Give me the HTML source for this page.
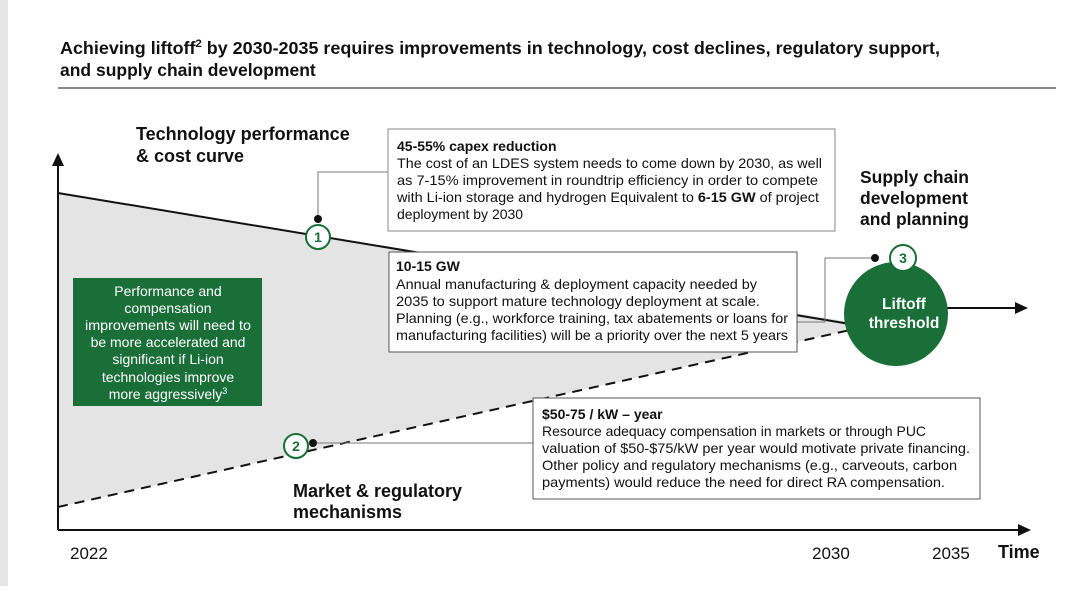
<!DOCTYPE html>
<html><head><meta charset="utf-8"><style>
body{margin:0;width:1080px;height:586px;background:#fff;overflow:hidden;font-family:"Liberation Sans",Arial,sans-serif;}
svg text{font-family:"Liberation Sans",Arial,sans-serif;}
</style></head><body>
<svg width="1080" height="586" viewBox="0 0 1080 586" xmlns="http://www.w3.org/2000/svg">
<rect x="0" y="0" width="8" height="586" fill="#e6e6e6"/>
<text x="60" y="54" font-size="17.5" font-weight="bold" fill="#111" textLength="880" lengthAdjust="spacingAndGlyphs">Achieving liftoff<tspan font-size="11" dy="-7">2</tspan><tspan dy="7"> by 2030-2035 requires improvements in technology, cost declines, regulatory support,</tspan></text>
<text x="60" y="76" font-size="17.5" font-weight="bold" fill="#111">and supply chain development</text>
<line x1="58" y1="88" x2="1056" y2="88" stroke="#444" stroke-width="1.2"/>
<text x="136" y="140" font-size="18" font-weight="bold" fill="#111">Technology performance</text>
<text x="136" y="162" font-size="18" font-weight="bold" fill="#111">&amp; cost curve</text>
<polygon points="58,193 850,322 850,330 58,507" fill="#e4e4e4"/>
<line x1="58" y1="193" x2="850" y2="324" stroke="#111" stroke-width="2"/>
<line x1="58" y1="507" x2="850" y2="330" stroke="#111" stroke-width="2" stroke-dasharray="10,7"/>
<line x1="58" y1="530" x2="58" y2="165" stroke="#111" stroke-width="2"/>
<polygon points="52,166 64,166 58,153" fill="#111"/>
<line x1="58" y1="530" x2="1020" y2="530" stroke="#111" stroke-width="2"/>
<polygon points="1018,524 1018,536 1031,530" fill="#111"/>
<line x1="945" y1="308" x2="1016" y2="308" stroke="#111" stroke-width="2"/>
<polygon points="1015,302 1015,314 1028,308" fill="#111"/>
<!-- box 1 -->
<polyline points="318,219 318,172 388,172" fill="none" stroke="#777" stroke-width="1"/>
<circle cx="318" cy="219" r="4" fill="#111"/>
<circle cx="318" cy="237" r="12" fill="#fff" stroke="#1a6e38" stroke-width="2"/>
<text x="318" y="242" font-size="14" font-weight="bold" fill="#1a6e38" text-anchor="middle">1</text>
<rect x="388" y="129" width="447" height="102" fill="#fff" stroke="#888" stroke-width="1"/>
<g font-size="14" fill="#111">
<text x="397" y="151" font-weight="bold">45-55% capex reduction</text>
<text x="397" y="168" textLength="425" lengthAdjust="spacingAndGlyphs">The cost of an LDES system needs to come down by 2030, as well</text>
<text x="397" y="185" textLength="421" lengthAdjust="spacingAndGlyphs">as 7-15% improvement in roundtrip efficiency in order to compete</text>
<text x="397" y="202" textLength="422" lengthAdjust="spacingAndGlyphs">with Li-ion storage and hydrogen Equivalent to <tspan font-weight="bold">6-15 GW</tspan> of project</text>
<text x="397" y="219">deployment by 2030</text>
</g>
<!-- box 2 -->
<polyline points="797,322 825,322 825,258 875,258" fill="none" stroke="#777" stroke-width="1"/>
<circle cx="875" cy="258" r="4" fill="#111"/>
<rect x="389" y="252" width="408" height="100" fill="#fff" stroke="#555" stroke-width="1"/>
<g font-size="14" fill="#111">
<text x="396" y="271" font-weight="bold">10-15 GW</text>
<text x="396" y="289" textLength="361" lengthAdjust="spacingAndGlyphs">Annual manufacturing &amp; deployment capacity needed by</text>
<text x="396" y="306" textLength="364" lengthAdjust="spacingAndGlyphs">2035 to support mature technology deployment at scale.</text>
<text x="396" y="323" textLength="392" lengthAdjust="spacingAndGlyphs">Planning (e.g., workforce training, tax abatements or loans for</text>
<text x="396" y="340" textLength="392" lengthAdjust="spacingAndGlyphs">manufacturing facilities) will be a priority over the next 5 years</text>
</g>
<text x="860" y="183" font-size="17.5" font-weight="bold" fill="#111">Supply chain</text>
<text x="860" y="204" font-size="17.5" font-weight="bold" fill="#111">development</text>
<text x="860" y="225" font-size="17.5" font-weight="bold" fill="#111">and planning</text>
<circle cx="896" cy="314" r="52" fill="#1a6e38"/>
<text x="904" y="309" font-size="15.5" font-weight="bold" fill="#fff" text-anchor="middle">Liftoff</text>
<text x="904" y="328" font-size="15.5" font-weight="bold" fill="#fff" text-anchor="middle">threshold</text>
<circle cx="903" cy="258" r="13" fill="#fff" stroke="#1a6e38" stroke-width="2"/>
<text x="903" y="263" font-size="14" font-weight="bold" fill="#1a6e38" text-anchor="middle">3</text>
<!-- green box -->
<rect x="73" y="278" width="189" height="128" fill="#1a6e38"/>
<g font-size="14" fill="#fff" text-anchor="middle">
<text x="168" y="296">Performance and</text>
<text x="168" y="313">compensation</text>
<text x="168" y="330" textLength="166" lengthAdjust="spacingAndGlyphs">improvements will need to</text>
<text x="168" y="347">be more accelerated and</text>
<text x="168" y="364">significant if Li-ion</text>
<text x="168" y="382">technologies improve</text>
<text x="168" y="399">more aggressively<tspan font-size="9" dy="-5">3</tspan></text>
</g>
<!-- box 3 -->
<polyline points="313,443 533,443" fill="none" stroke="#777" stroke-width="1"/>
<circle cx="313" cy="443" r="4" fill="#111"/>
<circle cx="296" cy="446" r="12" fill="#fff" stroke="#1a6e38" stroke-width="2"/>
<text x="296" y="451" font-size="14" font-weight="bold" fill="#1a6e38" text-anchor="middle">2</text>
<rect x="533" y="398" width="447" height="101" fill="#fff" stroke="#555" stroke-width="1"/>
<g font-size="14" fill="#111">
<text x="542" y="419" font-weight="bold">$50-75 / kW – year</text>
<text x="542" y="436" textLength="384" lengthAdjust="spacingAndGlyphs">Resource adequacy compensation in markets or through PUC</text>
<text x="542" y="453" textLength="428" lengthAdjust="spacingAndGlyphs">valuation of $50-$75/kW per year would motivate private financing.</text>
<text x="542" y="470" textLength="415" lengthAdjust="spacingAndGlyphs">Other policy and regulatory mechanisms (e.g., carveouts, carbon</text>
<text x="542" y="487" textLength="403" lengthAdjust="spacingAndGlyphs">payments) would reduce the need for direct RA compensation.</text>
</g>
<text x="293" y="497" font-size="18" font-weight="bold" fill="#111">Market &amp; regulatory</text>
<text x="293" y="518" font-size="18" font-weight="bold" fill="#111">mechanisms</text>
<text x="70" y="559" font-size="17" fill="#111">2022</text>
<text x="812" y="559" font-size="17" fill="#111">2030</text>
<text x="932" y="559" font-size="17" fill="#111">2035</text>
<text x="998" y="558" font-size="18" font-weight="bold" fill="#111">Time</text>
</svg>
</body></html>
